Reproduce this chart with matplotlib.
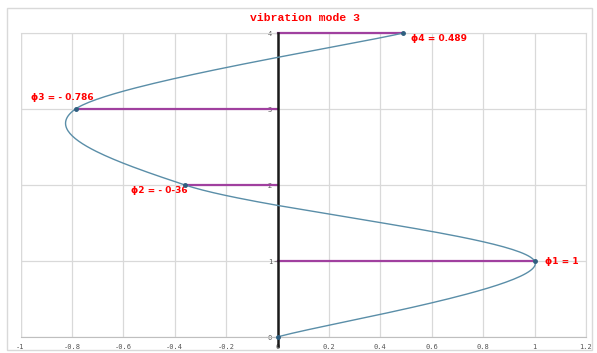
import numpy as np
import matplotlib
matplotlib.use("Agg")
import matplotlib.pyplot as plt
from matplotlib.patches import Rectangle

# mode shape values (floor level -> displacement)
levels = [0, 1, 2, 3, 4]
phi = [0.0, 1.0, -0.36, -0.786, 0.489]
labels = ["", "ϕ1 = 1", "ϕ2 = - 0-36", "ϕ3 = - 0.786", "ϕ4 = 0.489"]
label_pos = [None, (1.04, 1.0), (-0.57, 1.93), (-0.96, 3.15), (0.52, 3.93)]

xticks = [-1, -0.8, -0.6, -0.4, -0.2, 0, 0.2, 0.4, 0.6, 0.8, 1, 1.2]
xticklabels = ["-1", "-0.8", "-0.6", "-0.4", "-0.2", "0", "0.2", "0.4", "0.6", "0.8", "1", "1.2"]


def smooth(xs, ys, n=60):
    # Excel-like smoothed line: Catmull-Rom through the points
    px = [xs[0]] + list(xs) + [xs[-1]]
    py = [ys[0]] + list(ys) + [ys[-1]]
    ox, oy = [], []
    t = np.linspace(0, 1, n)
    for i in range(1, len(px) - 2):
        p0, p1, p2, p3 = (np.array([px[k], py[k]]) for k in (i - 1, i, i + 1, i + 2))
        c1 = p1 + (p2 - p0) / 6.0
        c2 = p2 - (p3 - p1) / 6.0
        b = (np.outer((1 - t) ** 3, p1) + np.outer(3 * (1 - t) ** 2 * t, c1)
             + np.outer(3 * (1 - t) * t ** 2, c2) + np.outer(t ** 3, p2))
        ox.extend(b[:, 0])
        oy.extend(b[:, 1])
    return ox, oy


fig = plt.figure(figsize=(5.97, 3.53), dpi=100)
fig.patches.append(Rectangle((7 / 597, 3 / 353), 585 / 597, 342 / 353,
                             transform=fig.transFigure, fill=False,
                             edgecolor="#d9d9d9", lw=1))
ax = fig.add_axes([20.5 / 597, 16 / 353, 565.5 / 597, 304 / 353])

ax.spines["left"].set_position(("data", 0))
ax.spines["left"].set_visible(False)
ax.set_xlim(-1, 1.2)
ax.set_ylim(0, 4)
ax.set_xticks(xticks)
ax.set_xticklabels(xticklabels, family="DejaVu Sans Mono", fontsize=5, color="#555555")
ax.set_yticks(levels)
ax.set_yticklabels([str(v) for v in levels], family="DejaVu Sans Mono", fontsize=5, color="#555555")
ax.grid(True, color="#d9d9d9", lw=0.9)
ax.set_axisbelow(True)
for s in ["top", "right"]:
    ax.spines[s].set_color("#d9d9d9")
ax.spines["bottom"].set_color("#bfbfbf")
ax.tick_params(axis="x", length=0, pad=5)
ax.tick_params(axis="y", length=3, color="#888888", pad=1, direction="out")

# left frame edge
ax.axvline(-1, color="#d9d9d9", lw=0.9)

# horizontal magenta bars
for y, x in zip(levels, phi):
    ax.plot([0, x], [y, y], color="#a0409f", lw=1.6, zorder=3, clip_on=False)

# black vertical axis
ax.plot([0, 0], [-0.12, 4], color="#1a1a1a", lw=1.8, clip_on=False, zorder=4)

sx, sy = smooth(phi, levels)
ax.plot(sx, sy, color="#5a8ea8", lw=1.0, zorder=5)
ax.plot(phi, levels, "o", color="#2f5f80", ms=2.5, zorder=6, clip_on=False)

for lab, pos in zip(labels, label_pos):
    if pos:
        ax.text(pos[0], pos[1], lab, color="red", fontsize=6.5, fontweight="bold",
                va="center", ha="left")

fig.text(305 / 597, 1 - 18 / 353, "vibration mode 3", color="red", fontsize=8.2,
         fontweight="bold", family="Liberation Mono", ha="center", va="center")

fig.savefig("out.png", dpi=100)
